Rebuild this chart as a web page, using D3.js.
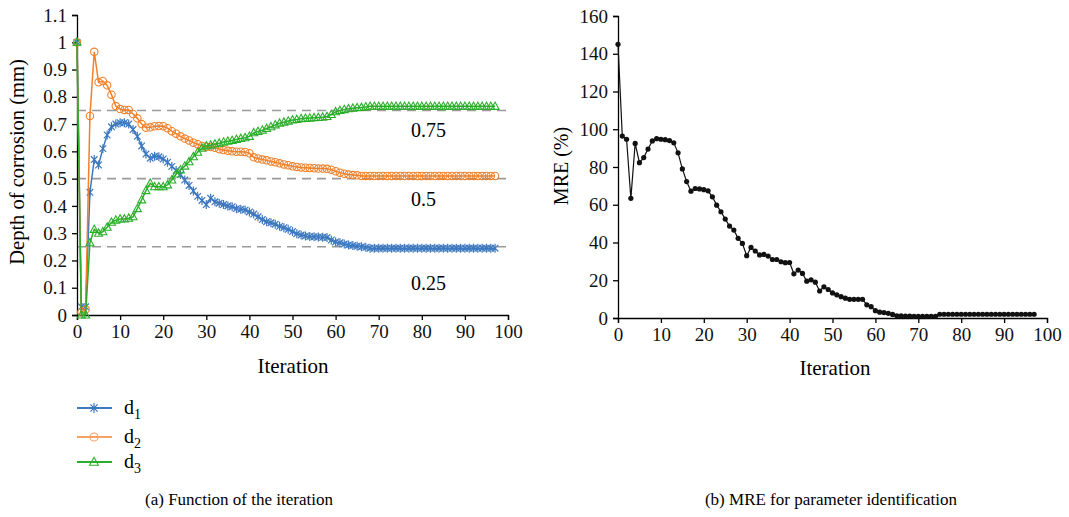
<!DOCTYPE html>
<html>
<head>
<meta charset="utf-8">
<script src="https://d3js.org/d3.v7.min.js"></script>
<style>
  body { margin: 0; background: #fff; }
  svg text { font-family: "Liberation Serif", "DejaVu Serif", serif; }
  .tick line, .domain { stroke: #000; stroke-width: 1.3; }
</style>
</head>
<body>
<div id="chart"></div>
<script>
// iteration values on the x axis
let iterations = d3.range(0, 98);

// depth of corrosion
let d1 = [1.0,0.03,0.03,0.45,0.57,0.55,0.61,0.66,0.69,0.70,
  0.705,0.705,0.70,0.68,0.655,0.62,0.59,0.575,0.582,0.58,
  0.572,0.56,0.545,0.53,0.515,0.495,0.475,0.455,0.435,0.42,
  0.405,0.428,0.415,0.41,0.405,0.40,0.397,0.39,0.388,0.385,
  0.378,0.37,0.36,0.35,0.342,0.338,0.333,0.325,0.32,0.314,
  0.306,0.298,0.293,0.29,0.288,0.287,0.286,0.285,0.284,0.275,
  0.268,0.265,0.26,0.257,0.255,0.252,0.25,0.248,0.245,0.245,
  0.245,0.245,0.245,0.245,0.245,0.245,0.245,0.245,0.245,0.245,
  0.245,0.245,0.245,0.245,0.245,0.245,0.245,0.245,0.245,0.245,
  0.245,0.245,0.245,0.245,0.245,0.245,0.245,0.245];

let d2 = [1.0,0.01,0.02,0.73,0.965,0.853,0.858,0.842,0.808,0.766,
  0.755,0.752,0.752,0.737,0.721,0.70,0.687,0.688,0.692,0.693,
  0.692,0.685,0.674,0.665,0.655,0.647,0.64,0.632,0.626,0.62,
  0.617,0.616,0.613,0.608,0.605,0.602,0.60,0.599,0.599,0.598,
  0.593,0.578,0.574,0.57,0.567,0.563,0.56,0.556,0.552,0.549,
  0.545,0.543,0.541,0.54,0.539,0.538,0.537,0.537,0.536,0.533,
  0.527,0.522,0.518,0.515,0.513,0.512,0.51,0.51,0.51,0.51,
  0.51,0.51,0.51,0.51,0.51,0.51,0.51,0.51,0.51,0.51,
  0.51,0.51,0.51,0.51,0.51,0.51,0.51,0.51,0.51,0.51,
  0.51,0.51,0.51,0.51,0.51,0.51,0.51,0.51];

let d3v = [1.0,0.0,0.0,0.265,0.314,0.30,0.305,0.322,0.34,0.348,
  0.352,0.352,0.355,0.36,0.39,0.422,0.456,0.483,0.47,0.47,
  0.47,0.477,0.495,0.517,0.532,0.546,0.562,0.58,0.597,0.612,
  0.62,0.623,0.627,0.63,0.634,0.637,0.64,0.644,0.647,0.65,
  0.655,0.668,0.673,0.678,0.684,0.69,0.697,0.703,0.707,0.711,
  0.715,0.717,0.72,0.721,0.722,0.723,0.724,0.725,0.728,0.735,
  0.745,0.75,0.753,0.756,0.758,0.76,0.761,0.763,0.765,0.765,
  0.765,0.765,0.765,0.765,0.765,0.765,0.765,0.765,0.765,0.765,
  0.765,0.765,0.765,0.765,0.765,0.765,0.765,0.765,0.765,0.765,
  0.765,0.765,0.765,0.765,0.765,0.765,0.765,0.765];

// MRE (%), panel (b)
let mre = [145,96.4,94.7,63.4,92.5,82.3,85,89.5,93.8,95,
  94.7,94.5,94,92.8,87.5,79,72.3,67.2,68.6,68.4,
  68,67.4,64.2,59.8,56.3,52.4,48.7,46.6,42.2,39.5,
  33,37.4,35.5,33.4,33.7,32.8,31,31,29.8,29.3,
  29.4,23.4,25.4,23.6,19.5,20.2,19,14.3,16.5,15.1,
  13.3,12.3,11.3,10.5,9.9,9.9,9.9,9.9,7,6,
  3.9,3.1,2.9,2.5,1.9,1.2,1.1,1,1,0.9,
  0.9,0.9,0.9,0.9,0.9,2,2,2,2,2,
  2,2,2,2,2,2,2,2,2,2,
  2,2,2,2,2,2,2,2];

// reference levels and tick values
let refLevels = [0.75, 0.5, 0.25];
let refLabels = ["0.75", "0.5", "0.25"];
let depthTicks = [0,0.1,0.2,0.3,0.4,0.5,0.6,0.7,0.8,0.9,1,1.1];
let mreTicks = [0,20,40,60,80,100,120,140,160];
let iterTicks = [0,10,20,30,40,50,60,70,80,90,100];
let seriesNames = ["d1", "d2", "d3"];
let colors = ["#3c78c0", "#f0802a", "#2aae2a"];
let legendColors = ["#3c78c0", "#f7a164", "#2aae2a"];

let serif = "'Liberation Serif', 'DejaVu Serif', serif";

let svg = d3.select("#chart")
  .append("svg")
  .attr("width", 1069)
  .attr("height", 517);

// restyle an axis group after d3 has drawn it
function styleAxis(g) {
  g.attr("font-family", null).attr("font-size", null);
  g.selectAll(".tick text")
    .attr("fill", "#111")
    .style("font-family", serif)
    .style("font-size", "19px");
}

// ---------- panel (a) ----------
let xA = d3.scaleLinear().domain([0, 100]).range([77, 508]);
let yA = d3.scaleLinear().domain([0, 1.1]).range([315, 15]);

let gA = svg.append("g");

// dashed reference lines
refLevels.forEach(function(v, k) {
  gA.append("line")
    .attr("x1", xA(0)).attr("x2", xA(100))
    .attr("y1", yA(v)).attr("y2", yA(v))
    .attr("stroke", "#9a9a9a")
    .attr("stroke-width", 1.6)
    .attr("stroke-dasharray", "9,6");
  gA.append("text")
    .attr("x", 411)
    .attr("y", yA(v) + (k == 2 ? 43 : 27))
    .attr("font-size", 20)
    .text(refLabels[k]);
});

gA.append("g")
  .attr("transform", `translate(0, ${yA(0)})`)
  .call(d3.axisBottom(xA).tickValues(iterTicks).tickSize(5).tickPadding(5).tickFormat(d3.format("d")))
  .call(styleAxis);

gA.append("g")
  .attr("transform", `translate(${xA(0)}, 0)`)
  .call(d3.axisLeft(yA).tickValues(depthTicks).tickSize(5).tickPadding(5).tickFormat(d => String(+d.toFixed(1))))
  .call(styleAxis);

let lineA = d3.line()
  .x((d, i) => xA(iterations[i]))
  .y(d => yA(d));

let allSeries = [d1, d2, d3v];

// marker drawing helpers
function drawMarker(g, kind, cx, cy, color, s) {
  if (kind == 0) {
    g.append("path")
      .attr("d", `M${cx - 3.3 * s},${cy - 3.3 * s}L${cx + 3.3 * s},${cy + 3.3 * s}M${cx - 3.3 * s},${cy + 3.3 * s}L${cx + 3.3 * s},${cy - 3.3 * s}M${cx},${cy - 4.5 * s}L${cx},${cy + 4.5 * s}`)
      .attr("stroke", color).attr("stroke-width", 1.2).attr("fill", "none");
  } else if (kind == 1) {
    g.append("circle")
      .attr("cx", cx).attr("cy", cy).attr("r", 3.7 * s)
      .attr("stroke", color).attr("stroke-width", 1.1).attr("fill", "none");
  } else {
    g.append("path")
      .attr("d", `M${cx},${cy - 4.3 * s}L${cx + 4 * s},${cy + 3 * s}L${cx - 4 * s},${cy + 3 * s}Z`)
      .attr("stroke", color).attr("stroke-width", 1.1).attr("fill", "none");
  }
}

allSeries.forEach(function(vals, k) {
  gA.append("path")
    .datum(vals)
    .attr("d", lineA)
    .attr("fill", "none")
    .attr("stroke", colors[k])
    .attr("stroke-width", 1.5);
  let mg = gA.append("g");
  vals.forEach(function(v, i) {
    drawMarker(mg, k, xA(iterations[i]), yA(v), colors[k], 1);
  });
});

// axis titles
gA.append("text")
  .attr("x", 293).attr("y", 373)
  .attr("text-anchor", "middle")
  .attr("font-size", 21)
  .text("Iteration");

gA.append("text")
  .attr("transform", "rotate(-90)")
  .attr("x", -162).attr("y", 24)
  .attr("text-anchor", "middle")
  .attr("font-size", 20.5)
  .text("Depth of corrosion (mm)");

// legend
let legendY = [408, 437, 462];
seriesNames.forEach(function(name, k) {
  let lg = svg.append("g");
  lg.append("line")
    .attr("x1", 77).attr("x2", 112)
    .attr("y1", legendY[k]).attr("y2", legendY[k])
    .attr("stroke", legendColors[k]).attr("stroke-width", 2);
  drawMarker(lg, k, 94, legendY[k], legendColors[k], 1.1);
  let t = lg.append("text")
    .attr("x", 124).attr("y", legendY[k] + 6)
    .attr("font-size", 20)
    .text("d");
  t.append("tspan")
    .attr("dy", 5)
    .attr("font-size", 14)
    .text(name.slice(1));
});

// ---------- panel (b) ----------
let xB = d3.scaleLinear().domain([0, 100]).range([618, 1047]);
let yB = d3.scaleLinear().domain([0, 160]).range([318, 16]);

let gB = svg.append("g");

gB.append("g")
  .attr("transform", `translate(0, ${yB(0)})`)
  .call(d3.axisBottom(xB).tickValues(iterTicks).tickSize(5).tickPadding(5))
  .call(styleAxis);

gB.append("g")
  .attr("transform", `translate(${xB(0)}, 0)`)
  .call(d3.axisLeft(yB).tickValues(mreTicks).tickSize(5).tickPadding(5))
  .call(styleAxis);

let lineB = d3.line()
  .x((d, i) => xB(iterations[i]))
  .y(d => yB(d));

gB.append("path")
  .datum(mre)
  .attr("d", lineB)
  .attr("fill", "none")
  .attr("stroke", "#111")
  .attr("stroke-width", 1.2);

gB.selectAll("circle.pt")
  .data(mre)
  .enter()
  .append("circle")
  .attr("cx", (d, i) => xB(iterations[i]))
  .attr("cy", d => yB(d))
  .attr("r", 2.6)
  .attr("fill", "#111");

gB.append("text")
  .attr("x", 835).attr("y", 375)
  .attr("text-anchor", "middle")
  .attr("font-size", 21)
  .text("Iteration");

gB.append("text")
  .attr("transform", "rotate(-90)")
  .attr("x", -166).attr("y", 568)
  .attr("text-anchor", "middle")
  .attr("font-size", 20)
  .text("MRE (%)");

// captions
svg.append("text")
  .attr("x", 239).attr("y", 505)
  .attr("text-anchor", "middle")
  .attr("font-size", 17)
  .text("(a) Function of the iteration");

svg.append("text")
  .attr("x", 831).attr("y", 505)
  .attr("text-anchor", "middle")
  .attr("font-size", 17)
  .text("(b) MRE for parameter identification");
</script>
</body>
</html>
